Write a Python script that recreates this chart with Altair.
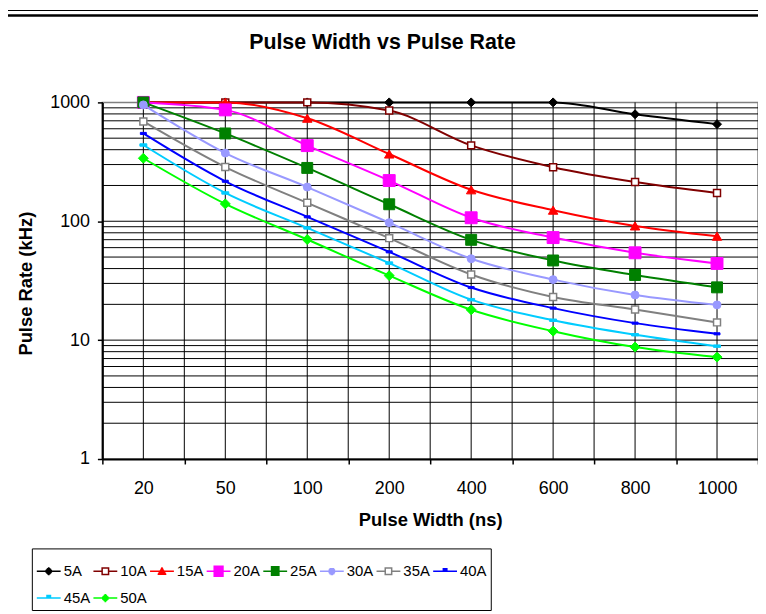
import altair as alt
import pandas as pd

# ---------------- data ----------------
widths = ["20", "50", "100", "200", "400", "600", "800", "1000"]
series = ["5A", "10A", "15A", "20A", "25A", "30A", "35A", "40A", "45A", "50A"]

r5 = [1000, 1000, 1000, 1000, 1000, 1000, 795, 656]
r10 = [1000, 1000, 1000, 854, 435, 285, 214, 173]
r15 = [1000, 1000, 736, 368, 184, 124, 91.4, 74.9]
r20 = [1000, 865, 433, 220, 107, 72.9, 54.3, 44.2]
r25 = [1000, 548, 281, 139, 69.8, 46.8, 35.3, 27.8]
r30 = [953, 375, 194, 97.3, 48.4, 32.3, 24.0, 19.8]
r35 = [691, 286, 143, 72.1, 35.7, 23.1, 18.1, 14.1]
r40 = [548, 217, 109, 55.3, 27.7, 18.6, 13.9, 11.3]
r45 = [438, 173, 87.9, 44.5, 21.9, 14.7, 11.1, 8.9]
r50 = [339, 140, 70.2, 34.9, 18.0, 11.9, 8.75, 7.2]
rates = [r5, r10, r15, r20, r25, r30, r35, r40, r45, r50]

y_major = [1, 10, 100, 1000]
y_grid = [m * d for d in [1, 10, 100] for m in range(2, 10)] + [10, 100]

# ---------------- styles ----------------
colors = ["#000000", "#800000", "#FF0000", "#FF00FF", "#008000",
          "#9999FF", "#808080", "#0000FF", "#00CCFF", "#00FF00"]
DASH = "M-1,-0.35L1,-0.35L1,0.35L-1,0.35Z"
m_shape = ["diamond", "square", "triangle-up", "square", "square",
           "circle", "square", DASH, DASH, "diamond"]
m_size = [81, 49, 90, 144, 121, 64, 49, 36, 49, 100]
m_fill = ["#000000", "#FFFFFF", "#FF0000", "#FF00FF", "#008000",
          "#9999FF", "#FFFFFF", "#0000FF", "#00CCFF", "#00FF00"]
m_sw = [1, 1.5, 1, 1, 1, 1, 1.5, 1, 1, 1]


def f(v):
    return ("%.3f" % v).rstrip("0").rstrip(".")


def scan(halfw, y0, y1, step=0.07):
    out = ""
    y = y0
    while y <= y1 + 1e-9:
        w = halfw(y)
        if w > 0.01:
            out += "M%s,%sL%s,%s" % (f(-w), f(y), f(w), f(y))
        y += step
    return out


LINE = "M-1,0L1,0"
lg_diamond = LINE + scan(lambda y: 0.35 - abs(y), -0.35, 0.35)
lg_open = ("M-1,0L-0.27,0M0.27,0L1,0"
           "M-0.27,-0.27L0.27,-0.27L0.27,0.27L-0.27,0.27Z")
lg_tri = LINE + scan(lambda y: 0.37 * (y + 0.37) / 0.64, -0.37, 0.27)
lg_sq_big = LINE + scan(lambda y: 0.43, -0.43, 0.43)
lg_sq = LINE + scan(lambda y: 0.37, -0.37, 0.37)
lg_circ = LINE + scan(lambda y: max(0.0, 0.29 ** 2 - y * y) ** 0.5, -0.29, 0.29)
lg_dash = LINE + scan(lambda y: 0.21, -0.21, 0.0)
legend_paths = [lg_diamond, lg_open, lg_tri, lg_sq_big, lg_sq,
                lg_circ, lg_open, lg_dash, lg_dash, lg_diamond]

FONT = "Liberation Sans"

rows = []
for si, s in enumerate(series):
    for wi, w in enumerate(widths):
        rows.append({"width": w, "idx": wi, "series": s, "rate": rates[si][wi]})
df = pd.DataFrame(rows)

x_scale = alt.Scale(domain=widths, paddingInner=0, paddingOuter=0)
y_scale = alt.Scale(type="log", domain=[1, 1000], nice=False)
color_scale = alt.Scale(domain=series, range=colors)

x_axis = alt.Axis(
    title="Pulse Width (ns)", labelAngle=0, tickBand="extent", grid=False,
    domainColor="black", domainWidth=2, tickColor="black", tickWidth=1.5,
    tickSize=5, labelFont=FONT, labelFontSize=18, labelColor="black",
    labelBaseline="middle", labelPadding=25,
    titleFont=FONT, titleFontSize=18.5, titleFontWeight="bold", titleColor="black",
    titleX=330, titleY=61, titleBaseline="middle", titleAlign="center",
)
y_axis = alt.Axis(
    title="Pulse Rate (kHz)", values=y_major, format="d", grid=False,
    domainColor="black", domainWidth=2, tickColor="black", tickWidth=1.5,
    tickSize=5, labelFont=FONT, labelFontSize=18, labelColor="black",
    labelPadding=8,
    titleFont=FONT, titleFontSize=18.5, titleFontWeight="bold", titleColor="black",
    titleX=-77, titleY=182, titleAngle=270, titleBaseline="middle",
    titleAlign="center",
)

X = alt.X("width:N", sort=widths, scale=x_scale, axis=x_axis)
Y = alt.Y("rate:Q", scale=y_scale, axis=y_axis)

hgrid = alt.Chart(pd.DataFrame({"g": y_grid})).mark_rule(
    color="black", strokeWidth=1
).encode(y=alt.Y("g:Q", scale=y_scale, axis=y_axis))

vgrid_c = alt.Chart(pd.DataFrame({"width": widths})).mark_rule(
    color="black", strokeWidth=1
).encode(x=X)

vgrid_b = alt.Chart(pd.DataFrame({"width": widths})).mark_rule(
    color="black", strokeWidth=1
).encode(x=alt.X("width:N", sort=widths, scale=x_scale, axis=x_axis,
                 bandPosition=0))

series_layers = []
for i, s in enumerate(series):
    base = alt.Chart(df).transform_filter(alt.datum.series == s)
    series_layers.append(
        base.mark_line(interpolate="monotone", strokeWidth=2, color=colors[i])
        .encode(x=X, y=Y, order=alt.Order("idx:Q"))
    )
    series_layers.append(
        base.mark_point(shape=m_shape[i], size=m_size[i], filled=True,
                        fill=m_fill[i], stroke=colors[i], strokeWidth=m_sw[i],
                        opacity=1)
        .encode(x=X, y=Y)
    )

leg = alt.Legend(
    title=" ", titleFontSize=1, titlePadding=5,
    orient="none", legendX=-71, legendY=449,
    direction="horizontal", columns=8, strokeColor="black", padding=4,
    symbolSize=576, symbolStrokeWidth=1.5, labelFont=FONT, labelFontSize=15,
    labelColor="black", labelOffset=2, columnPadding=0, rowPadding=6,
)
legend_layer = alt.Chart(df).mark_point(
    filled=False, opacity=1, strokeWidth=1.5, size=0
).encode(
    x=X, y=Y,
    color=alt.Color("series:N", scale=color_scale, legend=leg),
    shape=alt.Shape("series:N", scale=alt.Scale(domain=series, range=legend_paths),
                    legend=leg),
)

top1 = alt.Chart(pd.DataFrame({"a": [0]})).mark_rule(
    color="black", strokeWidth=1.2
).encode(x=alt.value(-100), x2=alt.value(660), y=alt.value(-92.5))
top2 = alt.Chart(pd.DataFrame({"a": [0]})).mark_rule(
    color="black", strokeWidth=2.5
).encode(x=alt.value(-100), x2=alt.value(660), y=alt.value(-87.5))

chart = alt.layer(
    hgrid, vgrid_c, vgrid_b, *series_layers, legend_layer, top1, top2
).properties(
    width=660, height=359,
    title=alt.TitleParams(
        "Pulse Width vs Pulse Rate", font=FONT, fontSize=21.5, fontWeight="bold",
        color="black", anchor="middle", frame="group", dx=-48, offset=0, dy=44,
    ),
    padding={"left": 95, "top": 93, "right": 0, "bottom": 154},
    autosize=alt.AutoSizeParams(type="none"),
).configure_view(stroke="#808080", strokeWidth=1.5)

chart.save("out.html", embed_options={"renderer": "svg", "actions": False})
